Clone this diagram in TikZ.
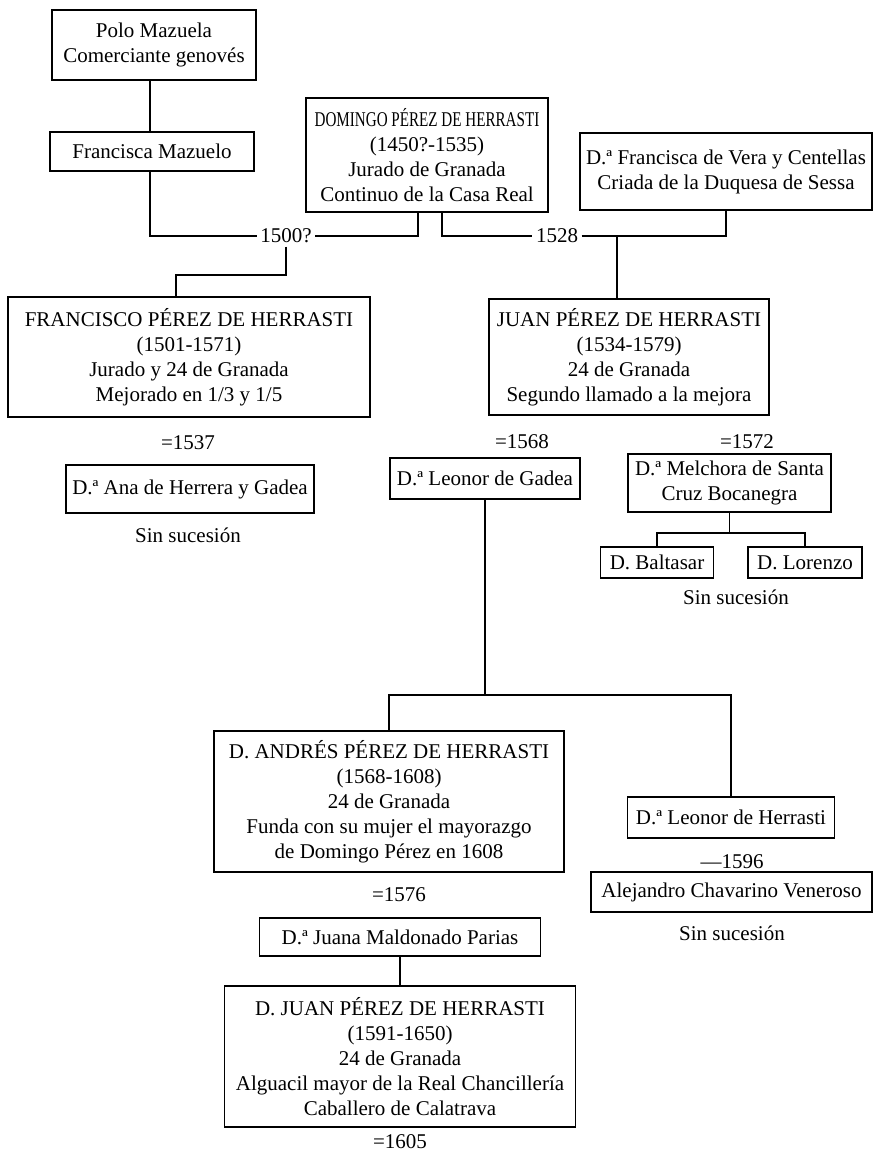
\documentclass[tikz,border=0pt]{standalone}
\usepackage{fontspec}
\setmainfont{Liberation Serif}
\usepackage{graphicx}
\usetikzlibrary{positioning}

\tikzset{
    box/.style={draw, line width=1.6pt, align=center, inner sep=0pt},
    link/.style={line width=1.6pt},
}

\begin{document}
\begin{tikzpicture}[x=1pt, y=-1pt, every node/.append style={font=\fontsize{21}{25}\selectfont}]
        \useasboundingbox (0,0) rectangle (873,1155);

        % First generation
        \node[box, minimum width=204, minimum height=70] (polo) at (154,45) {Polo Mazuela\\Comerciante genovés};
        \node[box, minimum width=204, minimum height=39] (fmaz) at (152,151.5) {Francisca Mazuelo};
        \node[box, minimum width=242, minimum height=114] (domingo) at (427,155)
            {\scalebox{0.72}[1]{DOMINGO PÉREZ DE HERRASTI}\\(1450?-1535)\\Jurado de Granada\\Continuo de la Casa Real};
        \node[box, minimum width=292, minimum height=77] (vera) at (726,171.5)
            {D.ª Francisca de Vera y Centellas\\Criada de la Duquesa de Sessa};
        \draw[link] (fmaz.north -| 150,0) -- (polo.south -| 150,0);

        % Marriages
        \node (m1500) at (286,236) {1500?};
        \node (m1528) at (557,236) {1528};
        \draw[link] (fmaz.south -| 150,0) |- (m1500.west);
        \draw[link] (m1500.east) -| ([xshift=-9pt]domingo.south);
        \draw[link] ([xshift=15pt]domingo.south) |- (m1528.west);
        \draw[link] (m1528.east) -| (vera.south);

        % Sons
        \node[box, minimum width=362, minimum height=120] (francisco) at (189,357)
            {FRANCISCO PÉREZ DE HERRASTI\\(1501-1571)\\Jurado y 24 de Granada\\Mejorado en 1/3 y 1/5};
        \node[box, minimum width=280, minimum height=116] (juan) at (629,357)
            {JUAN PÉREZ DE HERRASTI\\(1534-1579)\\24 de Granada\\Segundo llamado a la mejora};
        \coordinate (f1) at (176,275);
        \coordinate (j1) at (617,236);
        \draw[link] (m1500.south) |- (f1) -- (f1 |- francisco.north);
        \draw[link] (j1) -- (j1 |- juan.north);

        % Wives
        \node (y1537) at (188,443) {=1537};
        \node (y1568) at (522,442) {=1568};
        \node (y1572) at (747,442) {=1572};
        \node[box, minimum width=248, minimum height=48] (ana) at (190,489) {D.ª Ana de Herrera y Gadea};
        \node (sin1) at (188,535) {Sin sucesión};
        \node[box, minimum width=190, minimum height=41] (gadea) at (485,478.5) {D.ª Leonor de Gadea};
        \node[box, minimum width=203, minimum height=58] (melchora) at (729.5,483) {D.ª Melchora de Santa\\Cruz Bocanegra};

        % Children of Melchora
        \node[box, minimum width=113, minimum height=31] (baltasar) at (657,562.5) {D. Baltasar};
        \node[box, minimum width=114, minimum height=31] (lorenzo) at (805,562.5) {D. Lorenzo};
        \node (sin2) at (736,597) {Sin sucesión};
        \draw[link] (melchora.south) -- ++(0,20) coordinate (mb);
        \draw[link] (baltasar.north) |- (mb) -| (lorenzo.north);

        % Children of Leonor de Gadea
        \node[box, minimum width=350, minimum height=141] (andres) at (389,801.5)
            {D. ANDRÉS PÉREZ DE HERRASTI\\(1568-1608)\\24 de Granada\\Funda con su mujer el mayorazgo\\de Domingo Pérez en 1608};
        \node[box, minimum width=207, minimum height=41] (leonorh) at (731,817.5) {D.ª Leonor de Herrasti};
        \coordinate (gb) at (485,695);
        \draw[link] (gadea.south) -- (gb);
        \draw[link] (andres.north) |- (gb) -| (leonorh.north);

        \node (y1596) at (732,862) {—1596};
        \node[box, minimum width=281, minimum height=40] (alejandro) at (731.5,892) {Alejandro Chavarino Veneroso};
        \node (sin3) at (732,933) {Sin sucesión};

        % Next generation
        \node (y1576) at (399,895) {=1576};
        \node[box, minimum width=281, minimum height=38] (juana) at (400,937) {D.ª Juana Maldonado Parias};
        \node[box, minimum width=351, minimum height=141] (juan2) at (400,1056.5)
            {D. JUAN PÉREZ DE HERRASTI\\(1591-1650)\\24 de Granada\\Alguacil mayor de la Real Chancillería\\Caballero de Calatrava};
        \draw[link] (juana.south) -- (juan2.north);
        \node (y1605) at (400,1142) {=1605};
    \end{tikzpicture}
\end{document}
